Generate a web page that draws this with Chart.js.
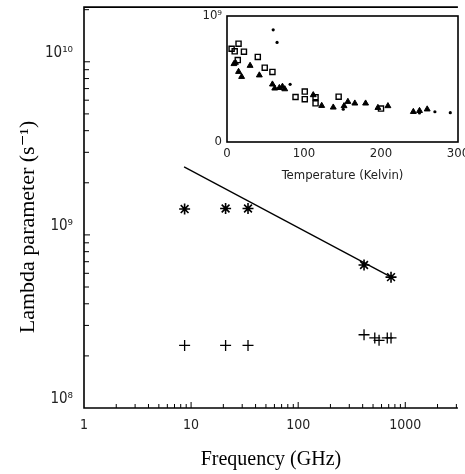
<!DOCTYPE html>
<html>
<head>
<meta charset="utf-8">
<script src="https://cdn.jsdelivr.net/npm/chart.js@4.4.1/dist/chart.umd.min.js"></script>
<style>
  html, body { margin: 0; padding: 0; background: #fff; overflow: hidden; }
  #wrap { position: relative; width: 465px; height: 474px; }
  #main { position: absolute; left: 0; top: 0; }
  #inset { position: absolute; left: 195px; top: 0; }
</style>
</head>
<body>
<div id="wrap">
  <canvas id="main" width="465" height="474"></canvas>
  <canvas id="inset" width="290" height="185"></canvas>
</div>
<script>
// main plot: lambda vs frequency
let starFreq = [8.7, 21, 34, 412, 736];
let starLambda = [1.41e9, 1.42e9, 1.42e9, 6.7e8, 5.7e8];
let plusFreq = [8.7, 21, 34, 412, 519, 569, 679, 736];
let plusLambda = [2.3e8, 2.3e8, 2.3e8, 2.65e8, 2.54e8, 2.46e8, 2.54e8, 2.54e8];
let fitFreq = [8.6, 739];
let fitLambda = [2.47e9, 5.7e8];

let xTickValues = [1, 10, 100, 1000];
let xTickLabels = ["1", "10", "100", "1000"];
let yTickValues = [1e8, 1e9, 1e10];
let yTickLabels = ["10⁸", "10⁹", "10¹⁰"];

// inset: lambda vs temperature
let squareT = [6, 10, 15, 14, 22, 40, 49, 59, 89, 101, 101, 115, 115, 145, 200];
let squareV = [7.4e8, 7.2e8, 7.8e8, 6.5e8, 7.17e8, 6.75e8, 5.9e8, 5.56e8, 3.57e8, 4.0e8, 3.4e8, 3.55e8, 3.07e8, 3.6e8, 2.65e8];
let triT = [9, 11, 15, 19, 30, 42, 59, 62, 68, 72, 75, 112, 123, 138, 152, 157, 166, 180, 196, 209, 242, 250, 260];
let triV = [6.2e8, 6.3e8, 5.58e8, 5.18e8, 6.06e8, 5.3e8, 4.58e8, 4.26e8, 4.3e8, 4.4e8, 4.2e8, 3.73e8, 2.88e8, 2.75e8, 2.86e8, 3.2e8, 3.07e8, 3.07e8, 2.72e8, 2.86e8, 2.4e8, 2.48e8, 2.6e8];
let dotT = [60, 65, 82, 151, 250, 270, 290];
let dotV = [8.9e8, 7.9e8, 4.58e8, 2.6e8, 2.3e8, 2.4e8, 2.33e8];
let insetXTicks = [0, 100, 200, 300];
let insetYTicks = [0, 1e9];
let insetYLabels = ["0", "10⁹"];

const narrow = "'Liberation Sans Narrow', 'DejaVu Sans Condensed', 'Liberation Sans', sans-serif";
const serif = "'Liberation Serif', 'DejaVu Serif', serif";

function pts(xs, ys) {
  return xs.map((x, i) => ({ x: x, y: ys[i] }));
}

function decadeTicks(lo, hi, max) {
  let out = [];
  for (let d = lo; d <= hi; d *= 10) {
    for (let m = 1; m <= 9; m++) {
      if (m * d <= max) out.push({ value: m * d });
    }
  }
  return out;
}

// no extra room for overflowing labels, the chart area is fixed by layout padding
function noPad(s) {
  s.paddingTop = 0; s.paddingBottom = 0; s.paddingLeft = 0; s.paddingRight = 0;
}

// frame, inward ticks and the rotated y title
const mainDecor = {
  id: "mainDecor",
  afterDraw(chart) {
    const ctx = chart.ctx, a = chart.chartArea;
    const sx = chart.scales.x, sy = chart.scales.y;
    ctx.save();
    ctx.strokeStyle = "#000";
    ctx.lineWidth = 1;
    sx.ticks.forEach(t => {
      const px = sx.getPixelForValue(t.value);
      if (px <= a.left + 1 || px >= a.right) return;
      const len = xTickValues.includes(t.value) ? 6 : 4;
      ctx.beginPath(); ctx.moveTo(px, a.bottom); ctx.lineTo(px, a.bottom - len); ctx.stroke();
    });
    sy.ticks.forEach(t => {
      const py = sy.getPixelForValue(t.value);
      if (py >= a.bottom - 1 || py <= a.top) return;
      const len = yTickValues.includes(t.value) ? 6 : 5;
      ctx.beginPath(); ctx.moveTo(a.left, py); ctx.lineTo(a.left + len, py); ctx.stroke();
    });
    ctx.lineWidth = 1.6;
    ctx.beginPath();
    ctx.moveTo(a.right, a.top);
    ctx.lineTo(a.left, a.top);
    ctx.lineTo(a.left, a.bottom);
    ctx.lineTo(a.right, a.bottom);
    ctx.stroke();

    ctx.translate(28, 227);
    ctx.rotate(-Math.PI / 2);
    ctx.fillStyle = "#000";
    ctx.font = "22px " + serif;
    ctx.textAlign = "center";
    ctx.textBaseline = "middle";
    ctx.fillText("Lambda parameter (s⁻¹)", 0, 0);
    ctx.restore();
  }
};

new Chart(document.getElementById("main"), {
  type: "scatter",
  data: {
    datasets: [
      {
        data: pts(fitFreq, fitLambda),
        showLine: true,
        pointRadius: 0,
        borderColor: "#000",
        borderWidth: 1.3
      },
      {
        data: pts(starFreq, starLambda),
        pointStyle: "star",
        pointRadius: 5.5,
        borderColor: "#000",
        borderWidth: 1.6
      },
      {
        data: pts(plusFreq, plusLambda),
        pointStyle: "cross",
        pointRadius: 5.5,
        borderColor: "#000",
        borderWidth: 1.3
      }
    ]
  },
  options: {
    responsive: false,
    animation: false,
    layout: { padding: { top: 5, right: 0, left: 0, bottom: 0 } },
    plugins: { legend: { display: false }, tooltip: { enabled: false } },
    scales: {
      x: {
        type: "logarithmic",
        min: 1,
        max: 3100,
        afterFit(s) { s.height = 66; noPad(s); },
        afterBuildTicks(s) { s.ticks = decadeTicks(1, 1000, 3100); },
        grid: { display: false, drawTicks: false },
        border: { display: false },
        ticks: {
          autoSkip: false,
          maxRotation: 0,
          padding: 9,
          color: "#222",
          font: { family: narrow, size: 14 },
          callback(v) {
            const i = xTickValues.indexOf(v);
            return i >= 0 ? xTickLabels[i] : "";
          }
        },
        title: {
          display: true,
          text: "Frequency (GHz)",
          color: "#000",
          font: { family: serif, size: 20 },
          padding: { top: 0, bottom: 2 }
        }
      },
      y: {
        type: "logarithmic",
        min: 1e8,
        max: 2.07e10,
        afterFit(s) { s.width = 84; noPad(s); },
        afterBuildTicks(s) { s.ticks = decadeTicks(1e8, 1e10, 2.07e10); },
        grid: { display: false, drawTicks: false },
        border: { display: false },
        ticks: {
          autoSkip: false,
          padding: 11,
          labelOffset: -9,
          color: "#222",
          font: { family: narrow, size: 15 },
          callback(v) {
            const i = yTickValues.indexOf(v);
            return i >= 0 ? yTickLabels[i] : "";
          }
        }
      }
    }
  },
  plugins: [mainDecor]
});

const insetFrame = {
  id: "insetFrame",
  beforeDatasetsDraw(chart) {
    const ctx = chart.ctx, a = chart.chartArea;
    ctx.save();
    ctx.fillStyle = "#fff";
    ctx.fillRect(a.left, a.top, a.right - a.left, a.bottom - a.top);
    ctx.strokeStyle = "#000";
    ctx.lineWidth = 1.6;
    ctx.strokeRect(a.left, a.top, a.right - a.left, a.bottom - a.top);
    ctx.restore();
  }
};

new Chart(document.getElementById("inset"), {
  type: "scatter",
  data: {
    datasets: [
      {
        data: pts(squareT, squareV),
        pointStyle: "rect",
        pointRadius: 3.6,
        backgroundColor: "rgba(0,0,0,0)",
        borderColor: "#000",
        borderWidth: 1.4
      },
      {
        data: pts(triT, triV),
        pointStyle: "triangle",
        pointRadius: 3.4,
        backgroundColor: "#000",
        borderColor: "#000",
        borderWidth: 1
      },
      {
        data: pts(dotT, dotV),
        pointStyle: "circle",
        pointRadius: 1.6,
        backgroundColor: "#000",
        borderColor: "#000",
        borderWidth: 0
      }
    ]
  },
  options: {
    responsive: false,
    animation: false,
    layout: { padding: { top: 16, right: 27, left: 0, bottom: 0 } },
    plugins: { legend: { display: false }, tooltip: { enabled: false } },
    scales: {
      x: {
        min: 0,
        max: 300,
        afterFit(s) { s.height = 43; noPad(s); },
        afterBuildTicks(s) { s.ticks = insetXTicks.map(v => ({ value: v })); },
        grid: { display: false, drawTicks: false },
        border: { display: false },
        ticks: {
          maxRotation: 0,
          padding: 4,
          color: "#222",
          font: { family: narrow, size: 13 }
        },
        title: {
          display: true,
          text: "Temperature (Kelvin)",
          color: "#222",
          font: { family: narrow, size: 13 },
          padding: { top: 0, bottom: 2 }
        }
      },
      y: {
        min: 0,
        max: 1e9,
        afterFit(s) { s.width = 32; noPad(s); },
        afterBuildTicks(s) { s.ticks = insetYTicks.map(v => ({ value: v })); },
        grid: { display: false, drawTicks: false },
        border: { display: false },
        ticks: {
          padding: 5,
          color: "#222",
          font: { family: narrow, size: 13 },
          callback(v) {
            const i = insetYTicks.indexOf(v);
            return i >= 0 ? insetYLabels[i] : "";
          }
        }
      }
    }
  },
  plugins: [insetFrame]
});
</script>
</body>
</html>
